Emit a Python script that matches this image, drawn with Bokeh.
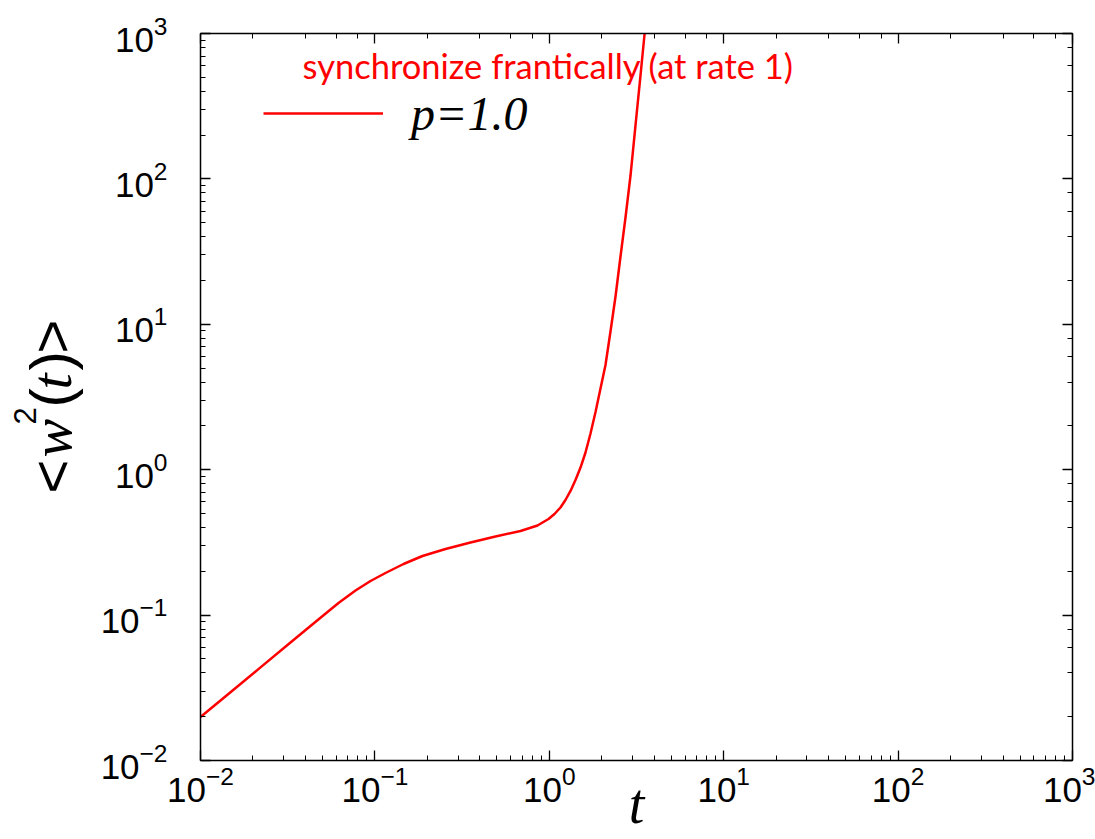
import math
from bokeh.plotting import figure
from bokeh.layouts import row
from bokeh.models import (LogAxis, LogTicker, Label, Legend, LegendItem,
                          CustomJSTickFormatter, Range1d)
from bokeh.embed import file_html
from bokeh.resources import INLINE

# ---- data ----
t_values = [0.01, 0.01486, 0.02208, 0.03281, 0.04875, 0.06184, 0.07742, 0.09437, 0.115,
            0.1459, 0.1874, 0.254, 0.3534, 0.4914, 0.6838, 0.8556, 0.9895, 1.071, 1.159,
            1.238, 1.323, 1.413, 1.510, 1.613, 1.723, 1.841, 1.966, 2.100, 2.243, 2.397,
            2.560, 2.735, 2.922, 3.121, 3.333, 3.52]
w2_values = [0.01992, 0.02949, 0.04368, 0.06479, 0.09581, 0.1211, 0.1476, 0.1716, 0.1948,
             0.2246, 0.2549, 0.2849, 0.3157, 0.3472, 0.3789, 0.4133, 0.458, 0.4957, 0.5495,
             0.619, 0.714, 0.850, 1.035, 1.313, 1.774, 2.494, 3.617, 5.248, 8.92, 15.53,
             29.26, 54.27, 105.5, 233.0, 514.0, 1000.0]
series_label = "p=1.0"
annotation_text = "synchronize frantically (at rate 1)"
x_axis_title = "t"
x_limits = (1e-2, 1e3)
y_limits = (1e-2, 1e3)

RED = "#ff0000"
SANS = "Liberation Sans"
SERIF = "Liberation Serif"

p = figure(width=1005, height=839, x_axis_type="log", y_axis_type="log",
           x_range=Range1d(*x_limits), y_range=Range1d(*y_limits),
           output_backend="svg", toolbar_location=None,
           min_border_left=110, min_border_right=23, min_border_top=33, min_border_bottom=79)
p.xgrid.visible = False
p.ygrid.visible = False
p.outline_line_color = None
p.background_fill_color = "white"
p.border_fill_color = "white"


def style_axis(ax):
    ax.axis_line_color = "black"
    ax.axis_line_width = 1.5
    ax.major_tick_in = 10
    ax.major_tick_out = 0
    ax.minor_tick_in = 5
    ax.minor_tick_out = 0
    ax.major_tick_line_color = "black"
    ax.major_tick_line_width = 1.3
    ax.minor_tick_line_color = "black"
    ax.minor_tick_line_width = 1.0
    ax.major_label_text_font = SANS
    ax.major_label_text_font_size = "35px"
    ax.major_label_text_color = "black"


for ax in p.xaxis:
    style_axis(ax)
    ax.major_label_standoff = 5
    ax.axis_label = x_axis_title
    ax.axis_label_text_font = SERIF
    ax.axis_label_text_font_style = "italic"
    ax.axis_label_text_font_size = "56px"
    ax.axis_label_text_color = "black"
    ax.axis_label_standoff = -32
for ax in p.yaxis:
    style_axis(ax)
    ax.major_label_standoff = 33

top = LogAxis(ticker=LogTicker(), formatter=CustomJSTickFormatter(code="return ''"))
style_axis(top)
top.major_label_standoff = 0
top.major_label_text_font_size = "1px"
p.add_layout(top, "above")

right = LogAxis(ticker=LogTicker(), formatter=CustomJSTickFormatter(code="return ''"))
style_axis(right)
right.major_label_standoff = 0
right.major_label_text_font_size = "1px"
p.add_layout(right, "right")

r = p.line(t_values, w2_values, line_color=RED, line_width=2.5)

legend = Legend(items=[LegendItem(label=series_label, renderers=[r])],
                location=(63, 617), glyph_width=120, glyph_height=60, label_height=60,
                label_standoff=28, padding=0, margin=0, spacing=0,
                border_line_color=None, background_fill_alpha=0,
                label_text_font=SERIF, label_text_font_style="italic",
                label_text_font_size="48px", label_text_color="black",
                label_text_baseline="middle")
p.add_layout(legend, "center")

p.add_layout(Label(x=102, y=695, x_units="screen", y_units="screen", text=annotation_text,
                   text_color=RED, text_font="Lato", text_font_size="34.5px",
                   text_baseline="alphabetic", text_align="left"))

# y axis title, composed piece by piece in a narrow strip to the left of the plot
ylab = figure(width=90, height=839, x_axis_location=None, y_axis_location=None,
              toolbar_location=None, output_backend="svg",
              min_border=0, min_border_left=0, min_border_right=0,
              min_border_top=0, min_border_bottom=0,
              x_range=Range1d(0, 1), y_range=Range1d(0, 1))
ylab.outline_line_color = None
ylab.xgrid.visible = False
ylab.ygrid.visible = False

ylabel_parts = [
    ("<", SANS, "normal", "58px", 51, 267),
    ("w", SERIF, "italic", "58px", 51, 303),
    ("2", SANS, "normal", "31px", 24, 336),
    ("(", SANS, "normal", "58px", 50, 353),
    ("t", SERIF, "italic", "58px", 51, 371),
    (")", SANS, "normal", "58px", 50, 390),
    (">", SANS, "normal", "58px", 51, 407),
]
for txt, font, style, size, lx, ly in ylabel_parts:
    ylab.add_layout(Label(x=lx, y=ly, x_units="screen", y_units="screen", text=txt,
                          text_font=font, text_font_style=style, text_font_size=size,
                          angle=math.pi / 2, text_align="left", text_baseline="alphabetic",
                          text_color="black"))

layout = row(ylab, p, spacing=0)
open("out.html", "w").write(file_html(layout, INLINE))
